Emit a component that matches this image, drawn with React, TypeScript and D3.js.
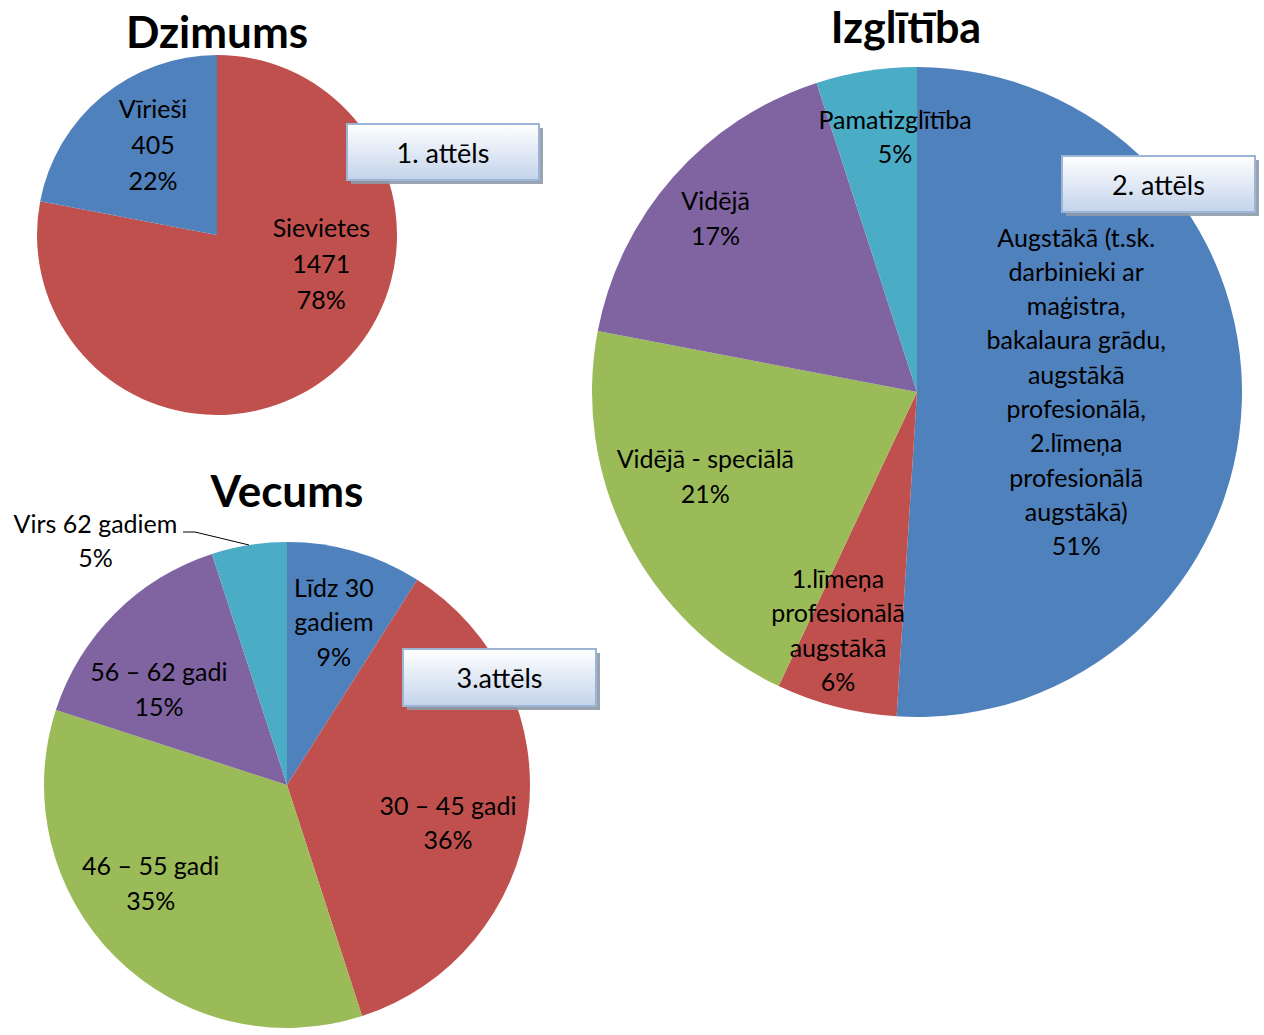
import React from "react";
import * as d3 from "d3";

// Dzimums
const genderLabels = ["Vīrieši", "Sievietes"];
const genderCounts = [405, 1471];
const genderPercents = [22, 78];

// Izglītība
const eduLabels = [
  "Augstākā (t.sk.|darbinieki ar|maģistra,|bakalaura grādu,|augstākā|profesionālā,|2.līmeņa|profesionālā|augstākā)",
  "1.līmeņa|profesionālā|augstākā",
  "Vidējā - speciālā",
  "Vidējā",
  "Pamatizglītība",
];
const eduPercents = [51, 6, 21, 17, 5];

// Vecums
const ageLabels = ["Līdz 30|gadiem", "30 – 45 gadi", "46 – 55 gadi", "56 – 62 gadi", "Virs 62 gadiem"];
const agePercents = [9, 36, 35, 15, 5];

const colors = ["#4F81BD", "#C0504D", "#9BBB59", "#8064A2", "#4BACC6"];

// label placement: [angle in degrees clockwise from top, radius fraction]
const genderLabelPos = [[325, 0.62], [105, 0.6]];
const eduLabelPos = [[89.6, 0.49], [198.4, 0.77], [248.5, 0.7], [310.9, 0.82], [355.1, 0.79]];
const ageLabelPos = [[16, 0.7], [103, 0.68], [234.4, 0.69], [307, 0.66], [322, 1.28]];

const font = "Lato, 'Liberation Sans', sans-serif";

function Pie({ cx, cy, r, values, colorOrder, lines, labelPos, lineHeight, leader }) {
  const pie = d3.pie().sort(null).value((d) => d);
  const arc = d3.arc().innerRadius(0).outerRadius(r);
  const slices = pie(values);
  const toRad = Math.PI / 180;
  return (
    <g>
      {slices.map((s, i) => (
        <path key={i} d={arc(s)} transform={`translate(${cx},${cy})`} fill={colors[colorOrder[i]]} />
      ))}
      {slices.map((s, i) => {
        const [ang, f] = labelPos[i];
        const x = cx + Math.sin(ang * toRad) * r * f;
        const y = cy - Math.cos(ang * toRad) * r * f;
        const ls = lines[i];
        const y0 = y - ((ls.length - 1) * lineHeight) / 2;
        return (
          <text key={"t" + i} x={x} y={y0} textAnchor="middle" fontFamily={font} fontSize={25} fill="#000">
            {ls.map((l, j) => (
              <tspan key={j} x={x} y={y0 + j * lineHeight} dominantBaseline="central">{l}</tspan>
            ))}
          </text>
        );
      })}
      {leader &&
        slices.map((s, i) => {
          if (i !== leader.index) return null;
          const mid = (s.startAngle + s.endAngle) / 2;
          const ex = cx + Math.sin(mid) * r;
          const ey = cy - Math.cos(mid) * r;
          return (
            <path key="leader" d={`M${leader.x},${leader.y}H${leader.x + 12}L${ex},${ey}`} fill="none" stroke="#000" strokeWidth={1} />
          );
        })}
    </g>
  );
}

function Callout({ x, y, w, h, label }) {
  return (
    <g>
      <rect x={x + 4} y={y + 4} width={w} height={h} fill="#8e9aa8" opacity={0.9} />
      <rect x={x} y={y} width={w} height={h} fill="url(#boxGrad)" stroke="#9cb5d6" strokeWidth={2} />
      <text x={x + w / 2} y={y + h / 2} textAnchor="middle" dominantBaseline="central" fontFamily={font} fontSize={27} fill="#000">
        {label}
      </text>
    </g>
  );
}

export default function App() {
  const genderLines = genderLabels.map((l, i) => [l, String(genderCounts[i]), genderPercents[i] + "%"]);
  const eduLines = eduLabels.map((l, i) => [...l.split("|"), eduPercents[i] + "%"]);
  const ageLines = ageLabels.map((l, i) => [...l.split("|"), agePercents[i] + "%"]);

  return (
    <svg width={1264} height={1035} style={{ position: "absolute", left: 0, top: 0, background: "#fff" }}>
      <defs>
        <linearGradient id="boxGrad" x1="0" y1="0" x2="0" y2="1">
          <stop offset="0%" stopColor="#ffffff" />
          <stop offset="100%" stopColor="#c3d3ea" />
        </linearGradient>
      </defs>
      <rect width={1264} height={1035} fill="#fff" />

      {/* Dzimums: red slice starts at the top */}
      <Pie
        cx={217}
        cy={235}
        r={180}
        values={[genderPercents[1], genderPercents[0]]}
        colorOrder={[1, 0]}
        lines={[genderLines[1], genderLines[0]]}
        labelPos={[genderLabelPos[1], genderLabelPos[0]]}
        lineHeight={36}
      />
      <text x={217} y={48} textAnchor="middle" fontFamily={font} fontWeight="bold" fontSize={44}>Dzimums</text>

      <Pie cx={917} cy={392} r={325} values={eduPercents} colorOrder={[0, 1, 2, 3, 4]} lines={eduLines} labelPos={eduLabelPos} lineHeight={34.3} />
      <text x={906} y={43} textAnchor="middle" fontFamily={font} fontWeight="bold" fontSize={43}>Izglītība</text>

      <Pie
        cx={287}
        cy={785}
        r={243}
        values={agePercents}
        colorOrder={[0, 1, 2, 3, 4]}
        lines={ageLines}
        labelPos={ageLabelPos}
        lineHeight={34.5}
        leader={{ index: 4, x: 183, y: 532 }}
      />
      <text x={287} y={507} textAnchor="middle" fontFamily={font} fontWeight="bold" fontSize={44}>Vecums</text>

      <Callout x={347} y={124} w={192} h={56} label="1. attēls" />
      <Callout x={1062} y={156} w={193} h={56} label="2. attēls" />
      <Callout x={403} y={649} w={193} h={57} label="3.attēls" />
    </svg>
  );
}
